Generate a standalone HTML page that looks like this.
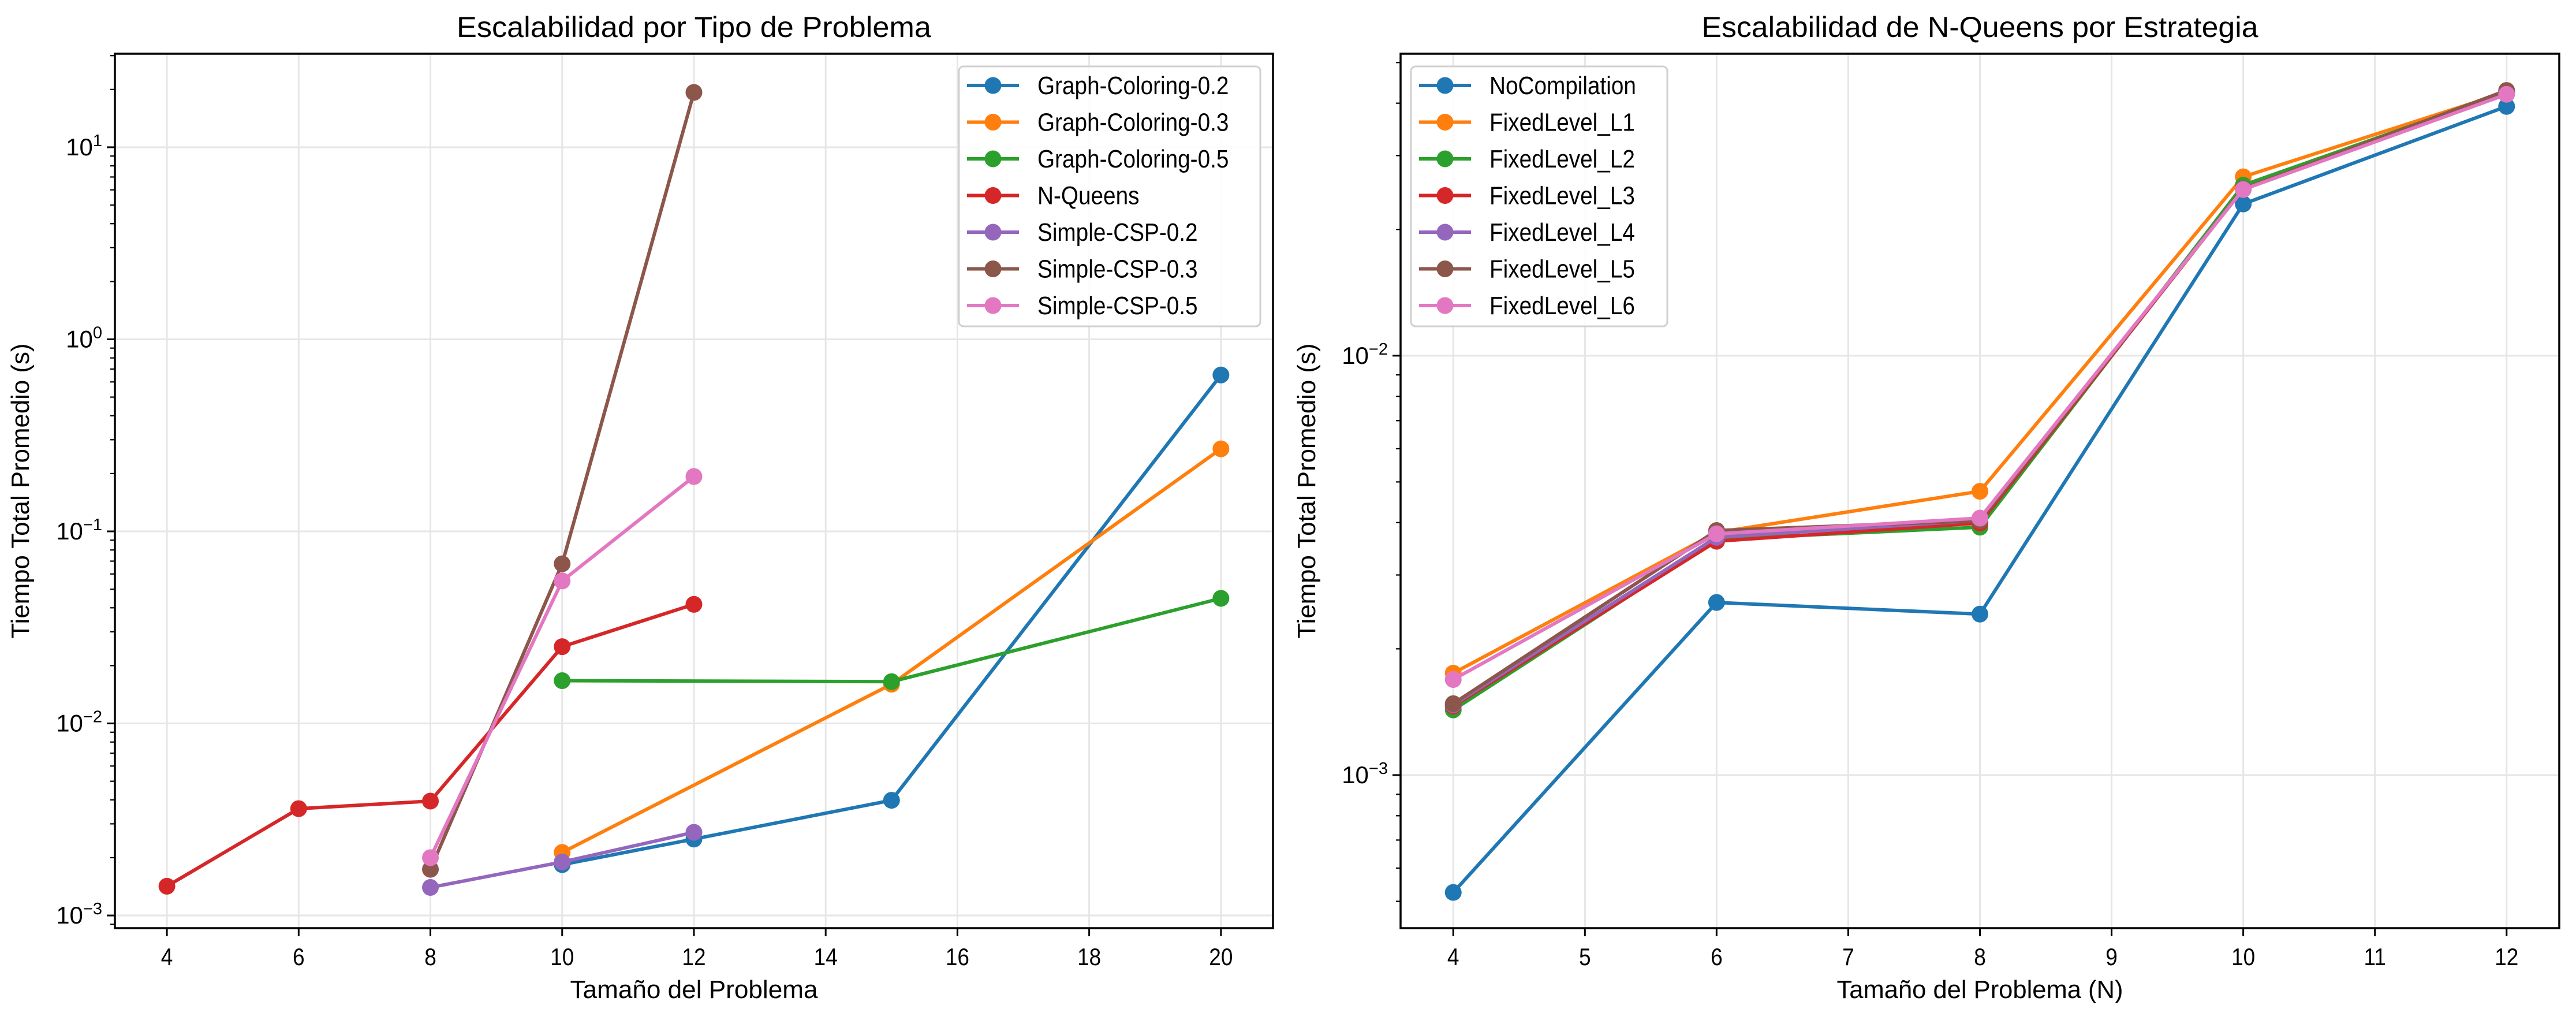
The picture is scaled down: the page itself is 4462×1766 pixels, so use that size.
<!DOCTYPE html>
<html><head><meta charset="utf-8">
<style>
html,body{margin:0;padding:0;background:#fff;}
svg{display:block;font-family:"Liberation Sans",sans-serif;}
</style></head>
<body>
<svg id="chart" width="4462" height="1766" viewBox="0 0 4462 1766" xmlns="http://www.w3.org/2000/svg"></svg>
<script>
// ---- Left chart data ----
const leftXTicks = [4, 6, 8, 10, 12, 14, 16, 18, 20];
const leftSeriesNames = ["Graph-Coloring-0.2","Graph-Coloring-0.3","Graph-Coloring-0.5","N-Queens","Simple-CSP-0.2","Simple-CSP-0.3","Simple-CSP-0.5"];
const gc02X = [10, 12, 15, 20];
const gc02Y = [0.00184, 0.0025, 0.00398, 0.652];
const gc03X = [10, 15, 20];
const gc03Y = [0.00213, 0.0160, 0.269];
const gc05X = [10, 15, 20];
const gc05Y = [0.0167, 0.0165, 0.0448];
const nqX = [4, 6, 8, 10, 12];
const nqY = [0.00142, 0.0036, 0.00394, 0.0251, 0.0417];
const s02X = [8, 10, 12];
const s02Y = [0.0014, 0.0019, 0.00271];
const s03X = [8, 10, 12];
const s03Y = [0.00174, 0.0678, 19.3];
const s05X = [8, 10, 12];
const s05Y = [0.0020, 0.0552, 0.193];
const leftYDecades = [-3, -2, -1, 0, 1];

// ---- Right chart data ----
const rightXTicks = [4, 5, 6, 7, 8, 9, 10, 11, 12];
const rightX = [4, 6, 8, 10, 12];
const rightSeriesNames = ["NoCompilation","FixedLevel_L1","FixedLevel_L2","FixedLevel_L3","FixedLevel_L4","FixedLevel_L5","FixedLevel_L6"];
const noCompY = [0.000525, 0.00258, 0.00242, 0.0230, 0.0393];
const l1Y = [0.00175, 0.00379, 0.00475, 0.0267, 0.0425];
const l2Y = [0.00143, 0.00365, 0.0039, 0.0255, 0.0425];
const l3Y = [0.00146, 0.00361, 0.00399, 0.0250, 0.0425];
const l4Y = [0.00147, 0.00369, 0.00405, 0.0250, 0.0425];
const l5Y = [0.00148, 0.00383, 0.00404, 0.0250, 0.0429];
const l6Y = [0.00169, 0.00376, 0.0041, 0.0249, 0.0420];
const rightYDecades = [-3, -2];

const colors = ["#1f77b4","#ff7f0e","#2ca02c","#d62728","#9467bd","#8c564b","#e377c2"];
const NS = "http://www.w3.org/2000/svg";
const svg = document.getElementById("chart");
function el(tag, attrs, parent){
  const e = document.createElementNS(NS, tag);
  for (const k in attrs) e.setAttribute(k, attrs[k]);
  (parent||svg).appendChild(e);
  return e;
}
const condTexts = [];

function drawPanel(cfg){
  const g = el("g", {});
  
  
  const {L,R,T,B,xmin,xmax,lmin,lmax} = cfg;
  const xs = v => L + (v - xmin) / (xmax - xmin) * (R - L);
  const ys = v => B - (Math.log10(v) - lmin) / (lmax - lmin) * (B - T);
  cfg.xTicks.forEach(t => {
    const gl = el("line", {x1:xs(t),x2:xs(t),y1:T,y2:B,stroke:"#e6e6e6","stroke-width":3}, g);
    
    
  });
  cfg.yDecades.forEach(d => {
    const gl = el("line", {x1:L,x2:R,y1:ys(Math.pow(10,d)),y2:ys(Math.pow(10,d)),stroke:"#e6e6e6","stroke-width":3}, g);
    
    
  });
  cfg.series.forEach((s, i) => {
    const sg = el("g", {}, g);
    
    
    const pts = s.x.map((xv, j) => xs(xv).toFixed(1) + "," + ys(s.y[j]).toFixed(1)).join(" ");
    const pl = el("polyline", {points:pts, fill:"none", stroke:colors[i], "stroke-width":6, "stroke-linejoin":"round"}, sg);
    
    
    s.x.forEach((xv, j) => {
      const c = el("circle", {cx:xs(xv), cy:ys(s.y[j]), r:14.5, fill:colors[i]}, sg);
      
      
    });
  });
  const fr = el("rect", {x:L,y:T,width:R-L,height:B-T,fill:"none",stroke:"#000","stroke-width":3.5}, g);
  
  
  cfg.xTicks.forEach(t => {
    el("line", {x1:xs(t),x2:xs(t),y1:B,y2:B+14,stroke:"#000","stroke-width":3}, g);
    const tx = el("text", {x:xs(t), y:1671, "font-size":42, "text-anchor":"middle"}, g);
    tx.textContent = t;
    
    
    condTexts.push(tx);
  });
  for (let d = Math.floor(lmin); d <= Math.ceil(lmax); d++) {
    for (let m = 1; m <= 9; m++) {
      const v = m * Math.pow(10, d);
      const lv = Math.log10(v);
      if (lv < lmin || lv > lmax) continue;
      const y = ys(v);
      el("line", {x1:L - (m===1?14:8), x2:L, y1:y, y2:y, stroke:"#000", "stroke-width": m===1?3:2.2}, g);
      if (m === 1) {
        const tx = el("text", {x:L-22, y:y+14, "font-size":42, "text-anchor":"end"}, g);
        const a = el("tspan", {}, tx); a.textContent = "10";
        const b = el("tspan", {"font-size":29, dy:-16}, tx); b.textContent = d < 0 ? "\u2212" + (-d) : String(d);
        
        
      }
    }
  }
  const ti = el("text", {x:(L+R)/2, y:64, "font-size":50, "text-anchor":"middle", textLength:cfg.titleW, lengthAdjust:"spacingAndGlyphs"}, g);
  ti.textContent = cfg.title;
  
  
  const xl = el("text", {x:(L+R)/2, y:1728, "font-size":44, "text-anchor":"middle", textLength:cfg.xlabelW, lengthAdjust:"spacingAndGlyphs"}, g);
  xl.textContent = cfg.xlabel;
  
  
  const yl = el("text", {x:0, y:0, "font-size":44, "text-anchor":"middle", textLength:511, lengthAdjust:"spacingAndGlyphs", transform:"translate("+cfg.ylabelX+","+((T+B)/2)+") rotate(-90)"}, g);
  yl.textContent = "Tiempo Total Promedio (s)";
  
  
  const lg = el("g", {}, g);
  
  
  el("rect", {x:cfg.legX, y:115, width:cfg.legW, height:450, rx:8, fill:"#fff", "fill-opacity":0.85, stroke:"#d0d0d0", "stroke-width":3}, lg);
  cfg.series.forEach((s, i) => {
    const y = 148 + i * 63.5;
    const e = el("g", {}, lg);
    
    
    el("line", {x1:cfg.legX+14, x2:cfg.legX+104, y1:y, y2:y, stroke:colors[i], "stroke-width":6}, e);
    el("circle", {cx:cfg.legX+59, cy:y, r:14.5, fill:colors[i]}, e);
    const tx = el("text", {x:cfg.legX+136, y:y+15, "font-size":44}, e);
    tx.textContent = s.name;
    condTexts.push(tx);
  });
}

const leftXs = [gc02X, gc03X, gc05X, nqX, s02X, s03X, s05X];
const leftYs = [gc02Y, gc03Y, gc05Y, nqY, s02Y, s03Y, s05Y];
drawPanel({
  name:"left-chart", L:199, R:2205, T:93, B:1607, xmin:3.2105, xmax:20.79, lmin:-3.066, lmax:1.487,
  xTicks:leftXTicks, yDecades:leftYDecades, title:"Escalabilidad por Tipo de Problema", titleW:822,
  xlabel:"Tamaño del Problema", xlabelW:429, ylabelX:50, legX:1661, legW:522,
  series:leftSeriesNames.map((n,i)=>({name:n, x:leftXs[i], y:leftYs[i]}))
});
const rightYs = [noCompY, l1Y, l2Y, l3Y, l4Y, l5Y, l6Y];
drawPanel({
  name:"right-chart", L:2426, R:4433, T:93, B:1607, xmin:3.6, xmax:12.4, lmin:-3.365, lmax:-1.280,
  xTicks:rightXTicks, yDecades:rightYDecades, title:"Escalabilidad de N-Queens por Estrategia", titleW:964,
  xlabel:"Tamaño del Problema (N)", xlabelW:496, ylabelX:2278, legX:2444, legW:444,
  series:rightSeriesNames.map((n,i)=>({name:n, x:rightX, y:rightYs[i]}))
});
condTexts.forEach(t => {
  const w = t.getComputedTextLength();
  if (w > 0) { t.setAttribute("textLength", (w*0.88).toFixed(1)); t.setAttribute("lengthAdjust","spacingAndGlyphs"); }
});
</script>
</body></html>
